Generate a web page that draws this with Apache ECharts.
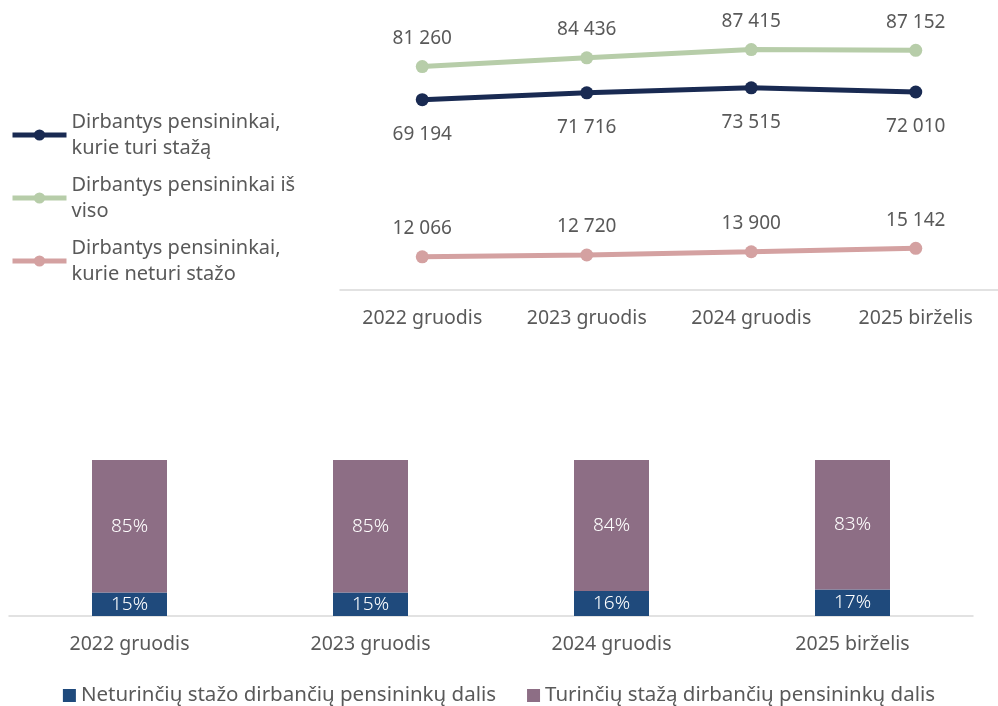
<!DOCTYPE html>
<html>
<head>
<meta charset="utf-8">
<script src="https://cdn.jsdelivr.net/npm/echarts@6/dist/echarts.min.js"></script>
<style>
  html, body { margin: 0; padding: 0; background: #fff; }
  #chart { width: 998px; height: 706px; }
</style>
</head>
<body>
<div id="chart"></div>
<script>
const lineCategories = ['2022 gruodis', '2023 gruodis', '2024 gruodis', '2025 birželis'];
const withSeniority = [69194, 71716, 73515, 72010];
const totalWorking = [81260, 84436, 87415, 87152];
const withoutSeniority = [12066, 12720, 13900, 15142];

const barCategories = ['2022 gruodis', '2023 gruodis', '2024 gruodis', '2025 birželis'];
const shareWithout = [15, 15, 16, 17];
const shareWith = [85, 85, 84, 83];

const LINE_NAMES = [
    'Dirbantys pensininkai,\nkurie turi stažą',
    'Dirbantys pensininkai iš\nviso',
    'Dirbantys pensininkai,\nkurie neturi stažo'
];
const BAR_NAMES = [
    'Neturinčių stažo dirbančių pensininkų dalis',
    'Turinčių stažą dirbančių pensininkų dalis'
];

const FONT = 'Noto Sans';
const TEXT_COLOR = '#595959';

function formatThousands(value) {
    return String(value).replace(/\B(?=(\d{3})+(?!\d))/g, ' ');
}

function lineSeries(name, data, color, labelPosition) {
    return {
        name,
        type: 'line',
        xAxisIndex: 0,
        yAxisIndex: 0,
        data,
        symbol: 'circle',
        symbolSize: 13,
        lineStyle: { width: 5, color },
        itemStyle: { color },
        label: {
            show: true,
            position: labelPosition,
            distance: labelPosition === 'top' ? 12 : 19,
            color: TEXT_COLOR,
            fontFamily: FONT,
            fontSize: 19,
            formatter: (p) => formatThousands(p.value)
        },
        emphasis: { disabled: true }
    };
}

function barSeries(name, data, color) {
    return {
        name,
        type: 'bar',
        stack: 'share',
        xAxisIndex: 1,
        yAxisIndex: 1,
        data,
        barWidth: 75,
        itemStyle: { color },
        label: {
            show: true,
            position: 'inside',
            color: '#fff',
            fontFamily: FONT,
            fontSize: 19,
            fontWeight: 300,
            formatter: '{c}%'
        },
        emphasis: { disabled: true }
    };
}

const axisLabelStyle = { color: TEXT_COLOR, fontFamily: FONT, fontSize: 19.5 };

const option = {
    animation: false,
    textStyle: { fontFamily: FONT },
    grid: [
        { left: 340, right: 0, top: 15, height: 275 },
        { left: 9, right: 25, top: 460, height: 156 }
    ],
    xAxis: [
        {
            gridIndex: 0,
            type: 'category',
            data: lineCategories,
            axisLine: { lineStyle: { color: '#d9d9d9', width: 1.5 } },
            axisTick: { show: false },
            axisLabel: { ...axisLabelStyle, margin: 18 }
        },
        {
            gridIndex: 1,
            type: 'category',
            data: barCategories,
            axisLine: { lineStyle: { color: '#d9d9d9', width: 1.5 } },
            axisTick: { show: false },
            axisLabel: { ...axisLabelStyle, margin: 18 }
        }
    ],
    yAxis: [
        { gridIndex: 0, type: 'value', min: 0, max: 100000, show: false, splitLine: { show: false } },
        { gridIndex: 1, type: 'value', min: 0, max: 100, show: false, splitLine: { show: false } }
    ],
    legend: [
        {
            data: LINE_NAMES,
            orient: 'vertical',
            left: 10,
            top: 96,
            padding: 0,
            itemWidth: 54,
            itemHeight: 14,
            itemGap: -15,
            selectedMode: false,
            lineStyle: { width: 5 },
            textStyle: {
                color: TEXT_COLOR,
                fontFamily: FONT,
                fontSize: 20,
                lineHeight: 26,
                padding: [26, 0, 0, 0]
            }
        },
        {
            data: BAR_NAMES,
            orient: 'horizontal',
            left: 'center',
            top: 680,
            itemWidth: 13,
            itemHeight: 13,
            itemGap: 31,
            icon: 'rect',
            selectedMode: false,
            textStyle: { color: TEXT_COLOR, fontFamily: FONT, fontSize: 20.5 }
        }
    ],
    series: [
        lineSeries(LINE_NAMES[0], withSeniority, '#192a52', 'bottom'),
        lineSeries(LINE_NAMES[1], totalWorking, '#b7cda9', 'top'),
        lineSeries(LINE_NAMES[2], withoutSeniority, '#d4a1a1', 'top'),
        barSeries(BAR_NAMES[0], shareWithout, '#1f4a7c'),
        barSeries(BAR_NAMES[1], shareWith, '#8d6e85')
    ]
};

const chart = echarts.init(document.getElementById('chart'));
chart.setOption(option);
window.addEventListener('resize', () => chart.resize());
</script>
</body>
</html>
